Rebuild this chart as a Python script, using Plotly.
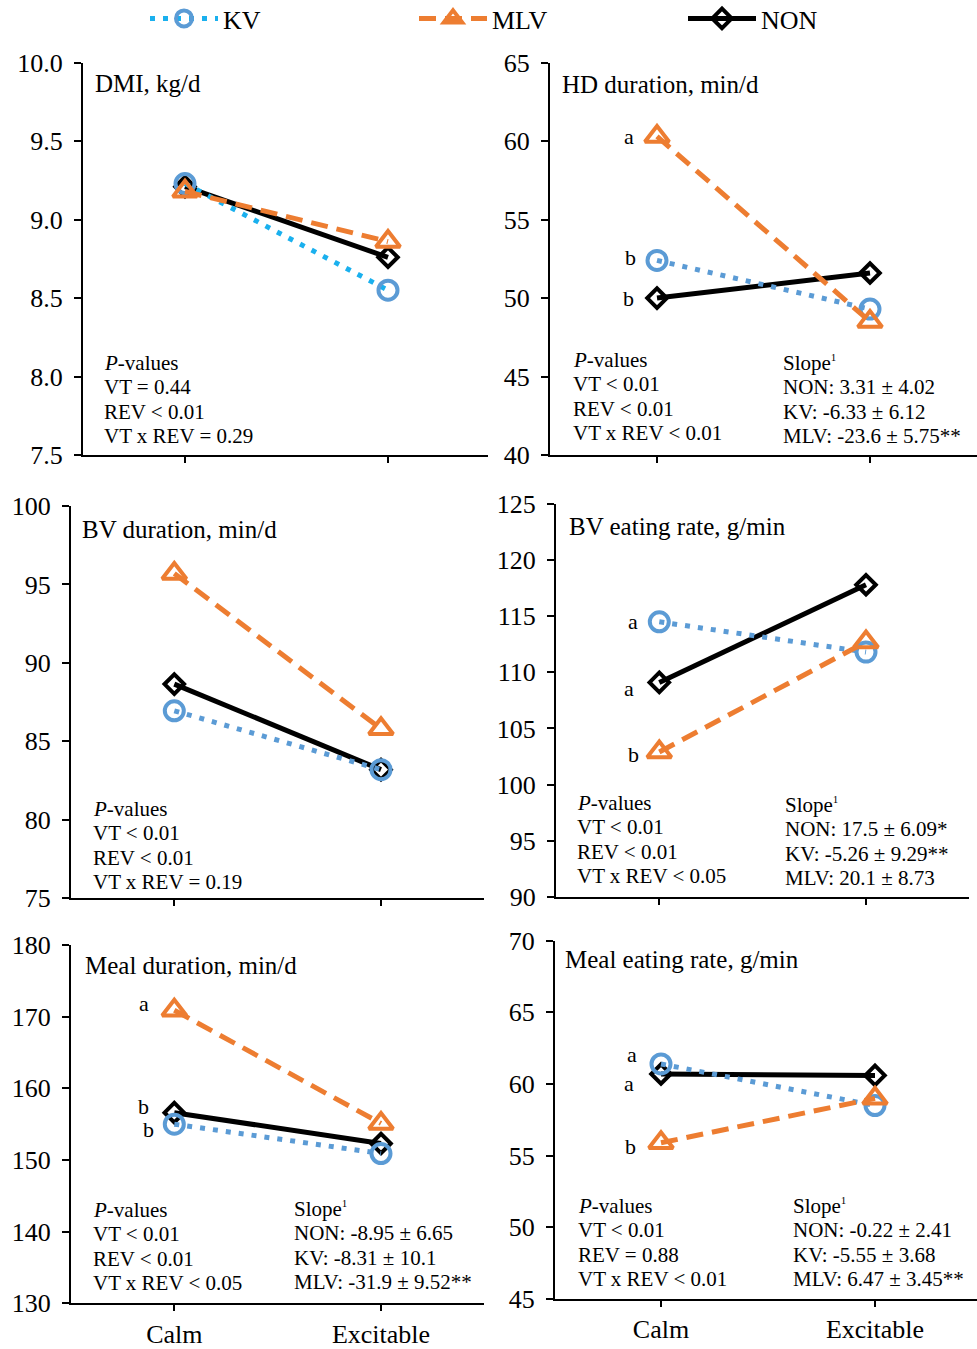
import plotly.graph_objects as go

# ---- data -------------------------------------------------------------
categories = ["Calm", "Excitable"]

dmi_kv = [9.23, 8.55]
dmi_mlv = [9.18, 8.86]
dmi_non = [9.21, 8.76]

hd_kv = [52.4, 49.3]
hd_mlv = [60.3, 48.5]
hd_non = [50.0, 51.6]

bvd_kv = [86.95, 83.2]
bvd_mlv = [95.7, 85.8]
bvd_non = [88.65, 83.2]

bvr_kv = [114.5, 111.8]
bvr_mlv = [102.9, 112.7]
bvr_non = [109.1, 117.8]

meal_kv = [155.0, 150.9]
meal_mlv = [170.9, 155.1]
meal_non = [156.6, 152.3]

mer_kv = [61.4, 58.5]
mer_mlv = [55.9, 59.0]
mer_non = [60.7, 60.6]

# ---- layout helpers ------------------------------------------------------
W, H = 977, 1349
FONT = "Liberation Serif"


def fx(x):
    return x / W


def fy(y):
    return 1 - y / H


STYLE = {
    "NON": dict(color="#000000", dash="solid", width=5, symbol="diamond-open", size=15, rank=3),
    "KV": dict(color="#5B9BD5", dash="5px,8px", width=5, symbol="circle-open", size=19, rank=1),
    "MLV": dict(color="#ED7D31", dash="17px,9px", width=5, symbol="triangle-up-open", size=21, rank=2),
}
DRAW_ORDER = ["NON", "KV", "MLV"]

panels = [
    dict(title="DMI, kg/d", data={"KV": dmi_kv, "MLV": dmi_mlv, "NON": dmi_non},
         yrange=[7.5, 10.0], dtick=0.5, fmt=".1f",
         box=(83, 62.7, 488, 455), cats=(185, 388), title_pos=(93, 83),
         kv_line="#1AB0EE",
         pvals=["<i>P</i>-values", "VT = 0.44", "REV &lt; 0.01", "VT x REV = 0.29"],
         p_pos=(102, 363), slope=None, s_pos=None, letters=[], xlabels=False),
    dict(title="HD duration, min/d", data={"KV": hd_kv, "MLV": hd_mlv, "NON": hd_non},
         yrange=[40, 65], dtick=5, fmt="d",
         box=(550, 62.7, 977, 455), cats=(657, 870), title_pos=(560, 85),
         kv_line=None,
         pvals=["<i>P</i>-values", "VT &lt; 0.01", "REV &lt; 0.01", "VT x REV &lt; 0.01"],
         p_pos=(571, 360),
         slope=["Slope<sup><span style='font-size:11px'>1</span></sup>", "NON: 3.31 ± 4.02",
                "KV: -6.33 ± 6.12", "MLV: -23.6 ± 5.75**"],
         s_pos=(781, 363),
         letters=[("a", "MLV", -28, 0), ("b", "KV", -27, 3), ("b", "NON", -29, 0)],
         xlabels=False),
    dict(title="BV duration, min/d", data={"KV": bvd_kv, "MLV": bvd_mlv, "NON": bvd_non},
         yrange=[75, 100], dtick=5, fmt="d",
         box=(71, 506, 484, 898.3), cats=(174.3, 381), title_pos=(80, 529),
         kv_line=None,
         pvals=["<i>P</i>-values", "VT &lt; 0.01", "REV &lt; 0.01", "VT x REV = 0.19"],
         p_pos=(91, 809), slope=None, s_pos=None, letters=[], xlabels=False),
    dict(title="BV eating rate, g/min", data={"KV": bvr_kv, "MLV": bvr_mlv, "NON": bvr_non},
         yrange=[90, 125], dtick=5, fmt="d",
         box=(556, 504, 969, 896.7), cats=(659.3, 866), title_pos=(567, 527),
         kv_line=None,
         pvals=["<i>P</i>-values", "VT &lt; 0.01", "REV &lt; 0.01", "VT x REV &lt; 0.05"],
         p_pos=(575, 803),
         slope=["Slope<sup><span style='font-size:11px'>1</span></sup>", "NON: 17.5 ± 6.09*",
                "KV: -5.26 ± 9.29**", "MLV: 20.1 ± 8.73"],
         s_pos=(783, 805),
         letters=[("a", "KV", -26, 0), ("a", "NON", -30, -6), ("b", "MLV", -26, -3)],
         xlabels=False),
    dict(title="Meal duration, min/d", data={"KV": meal_kv, "MLV": meal_mlv, "NON": meal_non},
         yrange=[130, 180], dtick=10, fmt="d",
         box=(71, 945, 484, 1303.3), cats=(174.3, 381), title_pos=(83, 965),
         kv_line=None,
         pvals=["<i>P</i>-values", "VT &lt; 0.01", "REV &lt; 0.01", "VT x REV &lt; 0.05"],
         p_pos=(91, 1210),
         slope=["Slope<sup><span style='font-size:11px'>1</span></sup>", "NON: -8.95 ± 6.65",
                "KV: -8.31 ± 10.1", "MLV: -31.9 ± 9.52**"],
         s_pos=(292, 1209),
         letters=[("a", "MLV", -30, 7), ("b", "NON", -31, 6), ("b", "KV", -26, -5)],
         xlabels=True),
    dict(title="Meal eating rate, g/min", data={"KV": mer_kv, "MLV": mer_mlv, "NON": mer_non},
         yrange=[45, 70], dtick=5, fmt="d",
         box=(555, 940.7, 977, 1299), cats=(661, 875), title_pos=(563, 959),
         kv_line=None,
         pvals=["<i>P</i>-values", "VT &lt; 0.01", "REV = 0.88", "VT x REV &lt; 0.01"],
         p_pos=(576, 1206),
         slope=["Slope<sup><span style='font-size:11px'>1</span></sup>", "NON: -0.22 ± 2.41",
                "KV: -5.55 ± 3.68", "MLV: 6.47 ± 3.45**"],
         s_pos=(791, 1206),
         letters=[("a", "KV", -29, 9), ("a", "NON", -32, -10), ("b", "MLV", -31, -4)],
         xlabels=True),
]

LINE_STEP = 24.4

fig = go.Figure()
annotations = []
layout_axes = {}

for i, p in enumerate(panels, start=1):
    xa = "x" if i == 1 else f"x{i}"
    ya = "y" if i == 1 else f"y{i}"
    left, top, right, bottom = p["box"]
    c1, c2 = p["cats"]
    unit = c2 - c1
    xr = [-(c1 - left) / unit, (right - c1) / unit]

    for name in DRAW_ORDER:
        st = STYLE[name]
        line_color = st["color"]
        if name == "KV" and p["kv_line"]:
            line_color = p["kv_line"]
        fig.add_trace(go.Scatter(
            x=categories, y=p["data"][name], name=name,
            xaxis=xa, yaxis=ya, mode="lines+markers",
            line=dict(color=line_color, width=st["width"], dash=st["dash"]),
            marker=dict(symbol=st["symbol"], size=st["size"], color=st["color"],
                        line=dict(color=st["color"], width=4)),
            showlegend=(i == 1), legendrank=st["rank"], cliponaxis=False,
        ))

    layout_axes["xaxis" if i == 1 else f"xaxis{i}"] = dict(
        domain=[fx(left), fx(right)], anchor=ya, type="category",
        range=xr, showline=True, linecolor="black", linewidth=2,
        ticks="outside", ticklen=6, tickwidth=2, tickcolor="black",
        showgrid=False, zeroline=False, showticklabels=p["xlabels"],
        tickfont=dict(family=FONT, size=26, color="black"),
        ticklabelstandoff=0,
    )
    layout_axes["yaxis" if i == 1 else f"yaxis{i}"] = dict(
        domain=[fy(bottom), fy(top)], anchor=xa,
        range=p["yrange"], dtick=p["dtick"], tick0=p["yrange"][0],
        tickformat=p["fmt"], showline=True, linecolor="black", linewidth=2,
        ticks="outside", ticklen=7, tickwidth=2, tickcolor="black",
        showgrid=False, zeroline=False,
        tickfont=dict(family=FONT, size=26, color="black"),
        ticklabelstandoff=6,
    )

    tx, ty = p["title_pos"]
    annotations.append(dict(
        text=p["title"], x=fx(tx), y=fy(ty), xref="paper", yref="paper",
        xanchor="left", yanchor="middle", showarrow=False,
        font=dict(family=FONT, size=25, color="black"),
    ))

    px0, py0 = p["p_pos"]
    for k, line in enumerate(p["pvals"]):
        annotations.append(dict(
            text=line, x=fx(px0), y=fy(py0 + k * LINE_STEP), xref="paper", yref="paper",
            xanchor="left", yanchor="middle", showarrow=False,
            font=dict(family=FONT, size=21, color="black"),
        ))
    if p["slope"]:
        sx0, sy0 = p["s_pos"]
        for k, line in enumerate(p["slope"]):
            annotations.append(dict(
                text=line, x=fx(sx0), y=fy(sy0 + k * LINE_STEP), xref="paper", yref="paper",
                xanchor="left", yanchor="middle", showarrow=False,
                font=dict(family=FONT, size=21, color="black"),
            ))

    for letter, series, dx, dy in p["letters"]:
        annotations.append(dict(
            text=letter, x=categories[0], y=p["data"][series][0], xref=xa, yref=ya,
            xanchor="center", yanchor="middle", xshift=dx, yshift=dy, showarrow=False,
            font=dict(family=FONT, size=22, color="black"),
        ))

fig.update_layout(
    width=W, height=H, margin=dict(l=0, r=0, t=0, b=0, autoexpand=False),
    paper_bgcolor="white", plot_bgcolor="white",
    annotations=annotations,
    legend=dict(orientation="h", x=fx(145), y=1 + 5 / H, xanchor="left", yanchor="top",
                entrywidth=186, entrywidthmode="pixels", itemwidth=68,
                itemsizing="trace", tracegroupgap=0,
                font=dict(family=FONT, size=26, color="black"),
                bgcolor="rgba(0,0,0,0)"),
    **layout_axes,
)

fig.write_html("out.html")
